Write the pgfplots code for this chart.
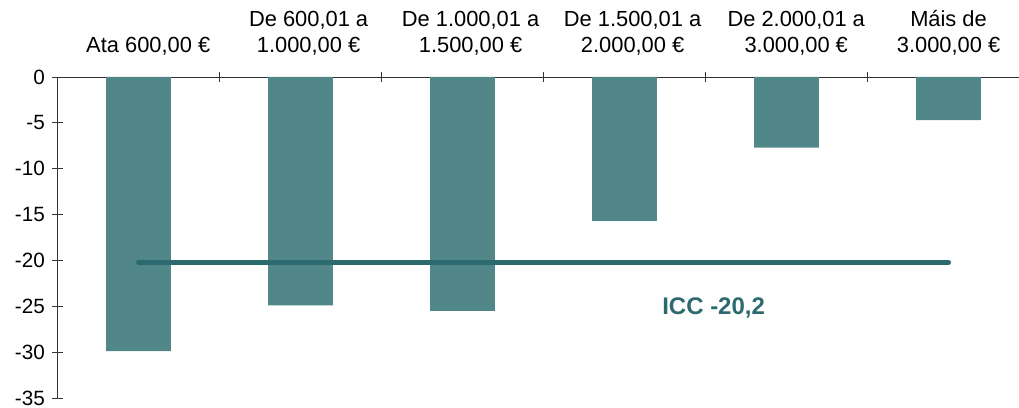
\documentclass[border=0pt]{standalone}
\usepackage{pgfplots}
\pgfplotsset{compat=1.18}
\usepackage{fontspec}
\setmainfont{Liberation Sans}
\definecolor{barteal}{HTML}{528789}
\definecolor{iccteal}{HTML}{2B6A6E}
\begin{document}
\begin{tikzpicture}
\begin{axis}[
    scale only axis,
    width=721.1pt, height=240.75pt,
    xmin=-0.5, xmax=5.435,
    ymin=-35, ymax=0,
    clip=false,
    axis x line*=top,
    axis y line*=left,
    axis line style={black!80, line width=0.6pt},
    tick style={black!80, line width=0.6pt},
    tick align=center,
    major tick length=8pt,
    xtick={0.5,1.5,2.5,3.5,4.5},
    xticklabels={},
    % labels sit a little right of the bar centres, as in the original
    extra x ticks={0.06,1.05,2.05,3.05,4.06,5},
    extra x tick labels={{Ata 600,00 €}, {De 600,01 a\\1.000,00 €}, {De 1.000,01 a\\1.500,00 €}, {De 1.500,01 a\\2.000,00 €}, {De 2.000,01 a\\3.000,00 €}, {Máis de\\3.000,00 €}},
    extra x tick style={major tick length=0pt},
    x tick label style={align=center, font=\fontsize{16.4}{19}\selectfont, yshift=13pt},
    ytick={-35,-30,...,0},
    y tick label style={font=\fontsize{15.5}{18}\selectfont, xshift=-2pt},
    /pgf/number format/assume math mode=true,
    bar width=0.4,
]
\addplot[ybar, fill=barteal, draw=none] coordinates {
    (0,-29.9) (1,-24.9) (2,-25.5) (3,-15.7) (4,-7.7) (5,-4.7)
};
\addplot[iccteal, line width=3.7pt, line cap=round] coordinates {
    (0,-20.2) (5,-20.2)
};
\node[text=iccteal, font=\fontsize{18}{20}\selectfont\bfseries] at (axis cs:3.55,-25.2) {ICC -20,2};
\coordinate (bl) at (axis cs:-0.855,-36.09);
\coordinate (tr) at (axis cs:5.435,8.396);
\end{axis}
\pgfresetboundingbox
\path[use as bounding box] (bl) rectangle (tr);
\end{tikzpicture}
\end{document}
